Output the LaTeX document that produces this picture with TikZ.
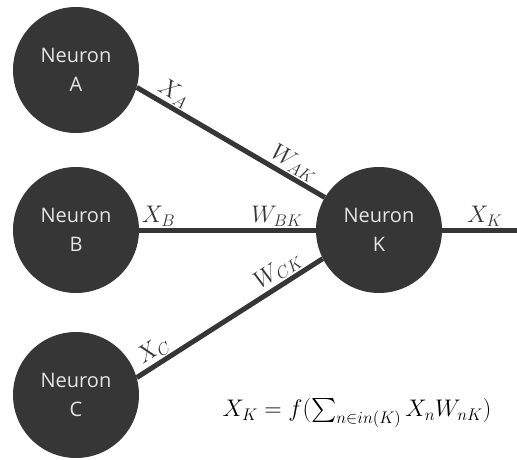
\documentclass[tikz,border=0pt]{standalone}
\usepackage{amsmath,amssymb}
\usepackage{fix-cm}
\usepackage{fontspec}
\newfontfamily\neufont{Open Sans}
\usepackage{xcolor}
\usepackage{tikz}
\usetikzlibrary{positioning,calc}
\definecolor{nrndark}{RGB}{54,54,54}
\definecolor{nrnlight}{RGB}{228,228,228}

\begin{document}
\begin{tikzpicture}[x=1pt,y=1pt,
    nd/.style={circle,fill=nrndark,minimum size=126pt,inner sep=0pt,align=center,text=nrnlight,font=\neufont\fontsize{20}{29}\selectfont},
    ax/.style={nrndark,line width=5pt},
    lb/.style={above,sloped,font=\fontsize{24}{28}\selectfont,inner sep=1.5pt}]
  \useasboundingbox (0,0) rectangle (517,459);
  % three input neurons
  \node[nd] (a) at (76,389) {Neuron\\A};
  \node[nd] (b) at (76,229) {Neuron\\B};
  \node[nd] (c) at (76,64) {Neuron\\C};
  % output neuron
  \node[nd] (k) at (379,229) {Neuron\\K};
  \coordinate (out) at (517,229);
  % weighted connections
  \draw[ax] (a.-16) -- node[lb,pos=0.16] {$X_A$} node[lb,pos=0.8] {$W_{AK}$} (k.149);
  \draw[ax] (b) -- node[lb,pos=0.11] {$X_B$} node[lb,pos=0.78] {$W_{BK}$} (k);
  \draw[ax] (c.16) -- node[lb,pos=0.13] {$X_C$} node[lb,pos=0.8] {$W_{CK}$} (k.-153);
  \draw[ax] (k) -- node[lb,pos=0.57] {$X_K$} (out);
  % activation
  \node[font=\fontsize{24}{28}\selectfont] (eq) at (357,46) {$X_K = f(\sum_{n\in in(K)} X_n W_{nK})$};
\end{tikzpicture}
\end{document}
